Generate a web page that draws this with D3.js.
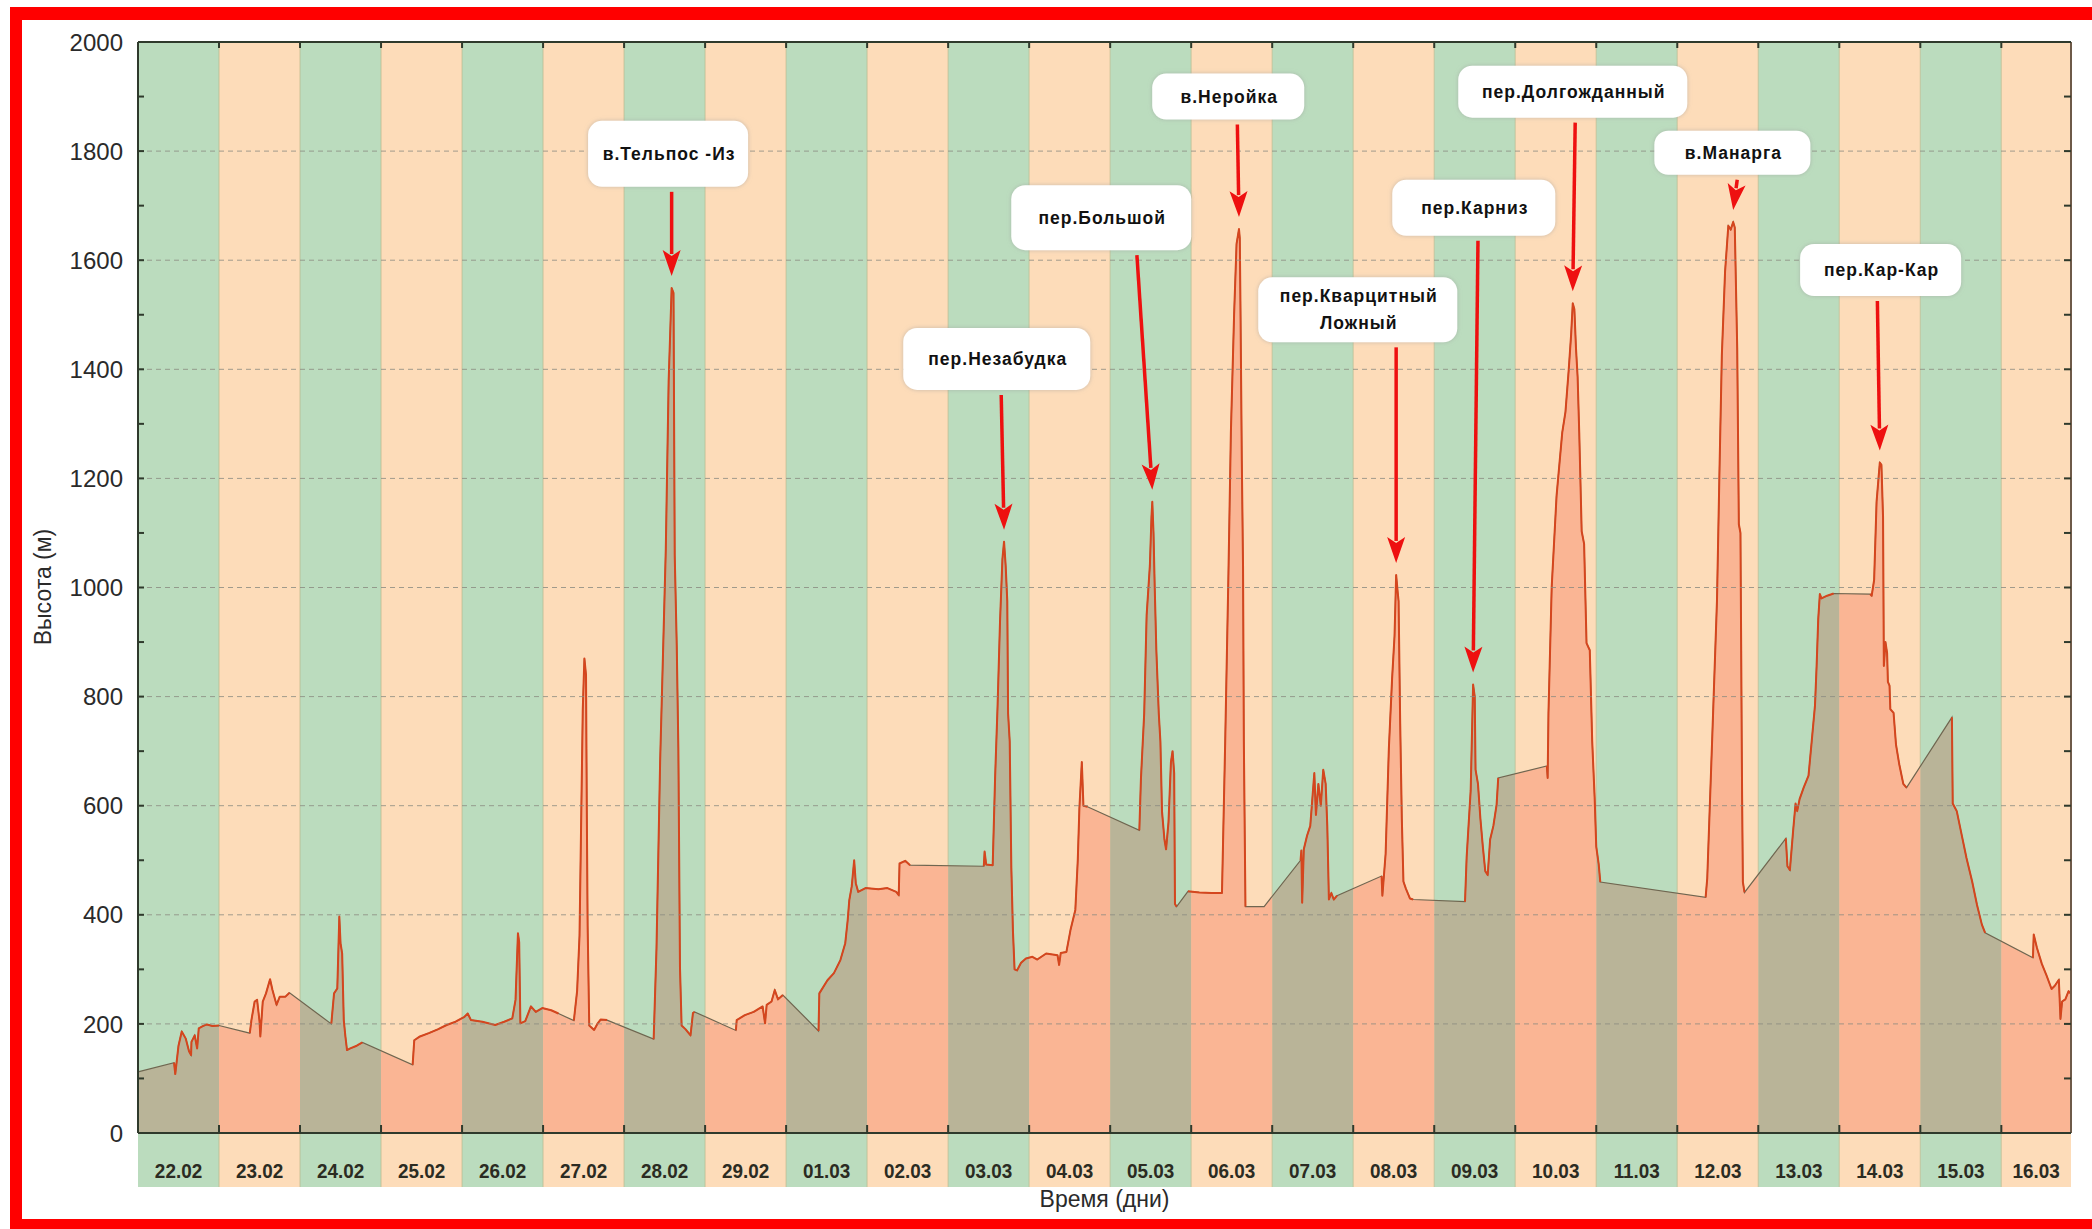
<!DOCTYPE html>
<html><head><meta charset="utf-8">
<script src="https://cdn.jsdelivr.net/npm/d3@7"></script>
<style>body{margin:0;background:#fff} svg{display:block}</style>
</head><body>
<svg id="c" width="2092" height="1229"></svg>
<script>
// ---------- DATA ----------
const dayLabels = ["22.02","23.02","24.02","25.02","26.02","27.02","28.02","29.02","01.03","02.03","03.03","04.03",
  "05.03","06.03","07.03","08.03","09.03","10.03","11.03","12.03","13.03","14.03","15.03","16.03"];
const yTicks = [0,200,400,600,800,1000,1200,1400,1600,1800,2000];
const tMax = 23.86; // days since 22.02 00:00 at right edge

// [time in days since 22.02, height m]; null = no recorded data (straight join)
const track = [
 [0,112], null,
 [0.445,129],[0.46,108],[0.5,160],[0.54,186],[0.59,173],[0.63,150],[0.655,143],[0.66,167],[0.7,179],[0.73,155],[0.75,192],[0.8,196],[0.85,199],[0.92,196],[1.0,197], null,
 [1.38,183],[1.40,207],[1.44,241],[1.47,244],[1.5,205],[1.51,177],[1.54,241],[1.58,256],[1.63,282],[1.66,262],[1.71,235],[1.75,250],[1.82,250],[1.87,257], null,
 [2.386,200],[2.42,256],[2.46,265],[2.485,397],[2.5,348],[2.52,329],[2.54,207],[2.56,177],[2.58,152],[2.62,155],[2.7,160],[2.77,166], null,
 [3.39,125],[3.41,170],[3.48,177],[3.59,183],[3.7,190],[3.81,198],[3.92,204],[4.03,213],[4.07,219],[4.11,207],[4.25,204],[4.41,198],[4.52,204],[4.62,210],[4.66,244],[4.69,366],[4.705,350],[4.72,201],[4.78,205],[4.85,232],[4.91,222],[4.99,229],[5.1,225],[5.19,219], null,
 [5.38,206],[5.42,260],[5.45,362],[5.49,776],[5.51,870],[5.53,840],[5.54,587],[5.55,380],[5.57,197],[5.63,189],[5.67,200],[5.71,208],[5.79,207], null,
 [6.365,172],[6.4,338],[6.445,681],[6.515,1071],[6.55,1378],[6.587,1549],[6.61,1540],[6.625,1059],[6.65,894],[6.67,705],[6.69,303],[6.71,197],[6.76,190],[6.82,179],[6.85,220],[6.87,222], null,
 [7.38,188],[7.39,207],[7.49,216],[7.6,222],[7.71,232],[7.74,201],[7.76,235],[7.82,241],[7.86,262],[7.9,245],[7.96,253], null,
 [8.4,187],[8.41,256],[8.51,280],[8.59,293],[8.67,317],[8.73,348],[8.76,390],[8.78,427],[8.81,452],[8.84,500],[8.86,458],[8.89,442],[8.98,449],[9.14,447],[9.25,449],[9.36,442],[9.39,436],[9.4,494],[9.47,499],[9.53,491], null,
 [10.44,489],[10.45,516],[10.47,492],[10.55,491],[10.58,653],[10.61,782],[10.64,936],[10.67,1052],[10.69,1084],[10.71,1040],[10.73,975],[10.74,769],[10.76,718],[10.78,486],[10.8,370],[10.82,300],[10.85,298],[10.9,312],[10.96,320],[11.04,323],[11.1,318],[11.21,329],[11.35,326],[11.37,308],[11.39,330],[11.46,332],[11.51,372],[11.57,409],[11.6,500],[11.62,595],[11.65,680],[11.67,600],[11.72,598], null,
 [12.36,555],[12.38,650],[12.42,769],[12.45,949],[12.49,1040],[12.51,1130],[12.52,1157],[12.535,1100],[12.55,1000],[12.57,885],[12.6,769],[12.62,718],[12.64,589],[12.67,538],[12.69,520],[12.72,570],[12.75,680],[12.77,700],[12.79,660],[12.8,420],[12.82,415], null,
 [12.96,443],[13.1,441],[13.25,440],[13.38,440],[13.42,718],[13.46,1026],[13.49,1284],[13.53,1502],[13.56,1630],[13.59,1657],[13.6,1640],[13.61,1489],[13.625,1232],[13.64,1040],[13.65,718],[13.67,415], null,
 [13.9,415], null,
 [14.35,500],[14.36,518],[14.37,422],[14.39,520],[14.43,545],[14.47,563],[14.52,660],[14.54,583],[14.57,640],[14.6,600],[14.63,666],[14.66,640],[14.68,563],[14.7,428],[14.73,440],[14.76,428],[14.8,435], null,
 [15.35,471],[15.36,435],[15.4,512],[15.44,705],[15.48,833],[15.51,911],[15.53,1023],[15.55,990],[15.56,975],[15.58,750],[15.6,576],[15.62,461],[15.65,448],[15.7,430],[15.74,428], null,
 [16.38,424],[16.4,505],[16.45,628],[16.48,822],[16.5,800],[16.51,666],[16.54,640],[16.57,576],[16.6,525],[16.63,480],[16.66,473],[16.69,538],[16.73,563],[16.77,602],[16.79,651], null,
 [17.39,673],[17.4,651],[17.41,769],[17.45,1001],[17.51,1168],[17.58,1284],[17.62,1322],[17.66,1399],[17.69,1464],[17.71,1521],[17.73,1510],[17.75,1438],[17.77,1386],[17.79,1284],[17.82,1103],[17.85,1080],[17.88,898],[17.92,885],[17.95,718],[17.98,615],[18.0,525],[18.03,493],[18.05,460], null,
 [19.35,432],[19.37,467],[19.43,718],[19.49,975],[19.52,1206],[19.55,1425],[19.59,1579],[19.63,1663],[19.66,1656],[19.69,1670],[19.71,1660],[19.74,1438],[19.76,1116],[19.78,1100],[19.8,621],[19.81,460],[19.83,441], null,
 [20.34,540],[20.36,489],[20.39,482],[20.43,554],[20.46,604],[20.48,590],[20.51,612],[20.56,633],[20.62,655],[20.66,719],[20.7,784],[20.72,856],[20.74,942],[20.76,988],[20.78,980],[20.85,985],[20.93,989], null,
 [21.38,988],[21.4,985],[21.43,1014],[21.46,1157],[21.5,1229],[21.52,1225],[21.54,1129],[21.55,856],[21.57,900],[21.59,880],[21.6,827],[21.62,820],[21.63,777],[21.67,770],[21.7,712],[21.74,676],[21.79,640],[21.83,633], null,
 [22.39,762],[22.4,604],[22.45,590],[22.51,547],[22.57,504],[22.64,461],[22.7,418],[22.76,382],[22.8,367], null,
 [23.39,321],[23.4,364],[23.44,339],[23.5,310],[23.56,288],[23.62,264],[23.66,270],[23.71,281],[23.73,209],[23.75,241],[23.79,245],[23.83,260],[23.86,255]
];

// annotations: label, peak (time, height), box centre (time, height), arrow start time
const annoLabels = ["в.Тельпос -Из","пер.Незабудка","пер.Большой","в.Неройка","пер.Кварцитный\nЛожный",
  "пер.Карниз","пер.Долгожданный","в.Манарга","пер.Кар-Кар"];
const annoPeakT  = [6.587, 10.69, 12.52, 13.59, 15.53, 16.48, 17.71, 19.69, 21.5];
const annoPeakH  = [1549, 1084, 1157, 1657, 1023, 822, 1521, 1670, 1229];
const annoBoxT   = [6.543, 10.60, 11.89, 13.457, 15.056, 16.488, 17.71, 19.68, 21.51];
const annoBoxH   = [1795, 1419, 1678, 1900, 1509, 1696, 1909, 1797, 1582];
const annoArrowT = [6.587, 10.655, 12.33, 13.57, 15.53, 16.54, 17.74, 19.74, 21.47];

// ---------- LAYOUT / STYLE ----------
const annoBoxSize = [[160,66],[187,62],[180,65],[152,46],[199,65],[163,56],[229,52],[156,44],[161,52]];
const M = {left:138, right:2071, top:42, bottom:1133, cellBottom:1187};
const GREEN = "#bbdcbe", ORANGE = "#fddcb9";
const FILL_G = "#b9b498", FILL_O = "#fab594";
const FONT = "'Liberation Sans', Arial, sans-serif";

const svg = d3.select("#c");
const x = d3.scaleLinear().domain([0, tMax]).range([M.left, M.right]);
const y = d3.scaleLinear().domain([0, 2000]).range([M.bottom, M.top]);

const days = dayLabels.map((lab,i)=>({lab, i, t0:i, t1:Math.min(i+1,tMax)}));

// bands (with label cells)
svg.append("g").selectAll("rect").data(days).join("rect")
  .attr("x", d=>x(d.t0)).attr("width", d=>x(d.t1)-x(d.t0))
  .attr("y", M.top).attr("height", M.cellBottom-M.top)
  .attr("fill", d=>d.i%2===0?GREEN:ORANGE);
// faint band edges
svg.append("g").selectAll("line").data(days.slice(1)).join("line")
  .attr("x1", d=>x(d.t0)).attr("x2", d=>x(d.t0))
  .attr("y1", M.top).attr("y2", M.cellBottom)
  .attr("stroke","#b8b88a").attr("stroke-width",1.2).attr("opacity",0.6);

// clip paths for area colour over each band colour
const defs = svg.append("defs");
["g","o"].forEach((k,ki)=>{
  defs.append("clipPath").attr("id","clip-"+k).selectAll("rect")
    .data(days.filter(d=>d.i%2===ki)).join("rect")
    .attr("x", d=>x(d.t0)).attr("width", d=>x(d.t1)-x(d.t0))
    .attr("y", M.top).attr("height", M.bottom-M.top);
});
const f = defs.append("filter").attr("id","sh").attr("x","-20%").attr("y","-30%").attr("width","140%").attr("height","160%");
f.append("feDropShadow").attr("dx",0).attr("dy",0).attr("stdDeviation",2.2).attr("flood-color","#9a9a9a").attr("flood-opacity",0.55);

const pts = track.filter(d=>d!==null);
const area = d3.area().x(d=>x(d[0])).y0(y(0)).y1(d=>y(d[1]));
svg.append("path").datum(pts).attr("d",area).attr("fill",FILL_G).attr("clip-path","url(#clip-g)");
svg.append("path").datum(pts).attr("d",area).attr("fill",FILL_O).attr("clip-path","url(#clip-o)");

// outline (includes straight joins over gaps)
const line = d3.line().x(d=>x(d[0])).y(d=>y(d[1]));
svg.append("path").datum(pts).attr("d",line).attr("fill","none")
  .attr("stroke","#6f6650").attr("stroke-width",1.2);
// recorded data segments
svg.append("path").datum(track).attr("d", d3.line().defined(d=>d!==null).x(d=>x(d[0])).y(d=>y(d[1])))
  .attr("fill","none").attr("stroke","#d5461e").attr("stroke-width",2).attr("stroke-linejoin","round");

// grid lines
svg.append("g").selectAll("line").data(yTicks.filter(v=>v>0&&v<2000)).join("line")
  .attr("x1", M.left).attr("x2", M.right).attr("y1", d=>y(d)).attr("y2", d=>y(d))
  .attr("stroke","#8a8a80").attr("stroke-width",1).attr("stroke-dasharray","5,4").attr("opacity",0.8);

// axes frame
const axc = "#2f3a2c";
svg.append("line").attr("x1",M.left).attr("x2",M.right).attr("y1",M.bottom).attr("y2",M.bottom).attr("stroke",axc).attr("stroke-width",2);
svg.append("line").attr("x1",M.left).attr("x2",M.right).attr("y1",M.top).attr("y2",M.top).attr("stroke",axc).attr("stroke-width",2);
svg.append("line").attr("x1",M.left).attr("x2",M.left).attr("y1",M.top).attr("y2",M.bottom).attr("stroke",axc).attr("stroke-width",2);
svg.append("line").attr("x1",M.right).attr("x2",M.right).attr("y1",M.top).attr("y2",M.bottom).attr("stroke","#6e5a48").attr("stroke-width",2);

// ticks
const minor = d3.range(0,2001,100);
svg.append("g").selectAll("line").data(minor).join("line")
  .attr("x1",M.left).attr("x2",M.left+6).attr("y1",d=>y(d)).attr("y2",d=>y(d)).attr("stroke",axc).attr("stroke-width",2);
svg.append("g").selectAll("line").data(minor).join("line")
  .attr("x1",M.right).attr("x2",M.right-7).attr("y1",d=>y(d)).attr("y2",d=>y(d)).attr("stroke",axc).attr("stroke-width",2);
svg.append("g").selectAll("line").data(days.slice(1)).join("line")
  .attr("x1",d=>x(d.t0)).attr("x2",d=>x(d.t0)).attr("y1",M.bottom).attr("y2",M.bottom-8).attr("stroke",axc).attr("stroke-width",2);
svg.append("g").selectAll("line").data(days.slice(1)).join("line")
  .attr("x1",d=>x(d.t0)).attr("x2",d=>x(d.t0)).attr("y1",M.top).attr("y2",M.top+6).attr("stroke",axc).attr("stroke-width",2);

// y tick labels
svg.append("g").selectAll("text").data(yTicks).join("text")
  .attr("x", M.left-15).attr("y", d=>y(d)).attr("dy","0.36em")
  .attr("text-anchor","end").attr("font-family",FONT).attr("font-size",24).attr("fill","#2a2a2a")
  .text(d=>d);

// x day labels
svg.append("g").selectAll("text").data(days).join("text")
  .attr("transform", d=>`translate(${(x(d.t0)+x(d.t1))/2},1170) scale(0.9,1)`)
  .attr("dy","0.36em").attr("text-anchor","middle")
  .attr("font-family",FONT).attr("font-weight","bold").attr("font-size",21).attr("fill","#2b2b22")
  .text(d=>d.lab);

// axis titles
svg.append("text").attr("transform","translate(43,587) rotate(-90)").attr("dy","0.36em")
  .attr("text-anchor","middle").attr("font-family",FONT).attr("font-size",23).attr("fill","#2a2a2a").text("Высота (м)");
svg.append("text").attr("x",(M.left+M.right)/2).attr("y",1199).attr("dy","0.36em")
  .attr("text-anchor","middle").attr("font-family",FONT).attr("font-size",23).attr("fill","#2a2a2a").text("Время (дни)");

// annotations
const annos = annoLabels.map((lab,i)=>({lab, pt:annoPeakT[i], ph:annoPeakH[i], bt:annoBoxT[i], bh:annoBoxH[i], at:annoArrowT[i], w:annoBoxSize[i][0], h:annoBoxSize[i][1]}));
const ag = svg.append("g");
annos.forEach(a=>{
  const cx = x(a.bt), cy = y(a.bh);
  ag.append("rect").attr("x",cx-a.w/2).attr("y",cy-a.h/2).attr("width",a.w).attr("height",a.h)
    .attr("rx",14).attr("fill","#fff").attr("filter","url(#sh)");
  const lines = a.lab.split("\n");
  const t = ag.append("text").attr("text-anchor","middle").attr("font-family",FONT).attr("font-weight","bold")
    .attr("font-size",17.5).attr("letter-spacing","1px").attr("fill","#111");
  lines.forEach((l,k)=>{
    t.append("tspan").attr("x",cx+1).attr("y", cy + (k-(lines.length-1)/2)*27 + 6).text(l);
  });
  // arrow
  const x0 = x(a.at), y0 = cy + a.h/2 + 5;
  const x1 = x(a.pt), y1 = y(a.ph) - 12;
  const dx = x1-x0, dy = y1-y0, L = Math.hypot(dx,dy), ux = dx/L, uy = dy/L;
  const hl = 26, hw = 9;
  const bx = x1-ux*hl, by = y1-uy*hl;
  ag.append("line").attr("x1",x0).attr("y1",y0).attr("x2",bx+ux*4).attr("y2",by+uy*4)
    .attr("stroke","#ee1010").attr("stroke-width",3.5);
  ag.append("path").attr("d",`M${x1},${y1}L${bx-uy*hw},${by+ux*hw}L${bx+ux*6},${by+uy*6}L${bx+uy*hw},${by-ux*hw}Z`)
    .attr("fill","#ee1010");
});

// red frame
svg.append("rect").attr("x",10).attr("y",7).attr("width",2082).attr("height",13).attr("fill","#ff0000");
svg.append("rect").attr("x",10).attr("y",7).attr("width",12).attr("height",1222).attr("fill","#ff0000");
svg.append("rect").attr("x",10).attr("y",1219).attr("width",2082).attr("height",10).attr("fill","#ff0000");
</script>
</body></html>
